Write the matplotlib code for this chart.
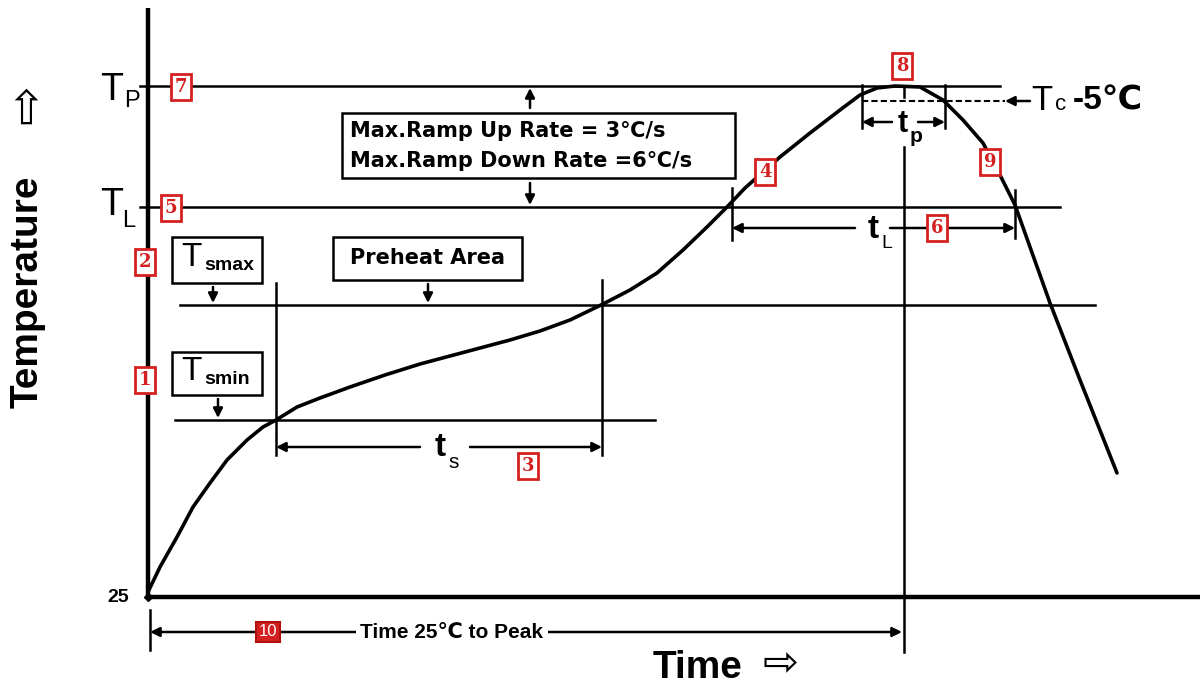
import matplotlib
matplotlib.use("Agg")
import matplotlib.pyplot as plt
from matplotlib.patches import Rectangle

# ---- data (picture coordinates: x = time, y = temperature, y grows downward) ----
curve_x = [148, 160, 177, 193, 210, 227, 247, 263, 276, 297, 320, 350, 385, 420, 450,
           480, 510, 540, 570, 603, 630, 657, 683, 707, 727, 745, 780, 810, 840, 860,
           877, 895, 920, 943, 963, 983, 1000, 1015, 1050, 1080, 1117]
curve_y = [592, 567, 537, 507, 483, 460, 440, 427, 420, 407, 398, 387, 375, 364, 356,
           348, 340, 331, 320, 304, 290, 273, 250, 227, 207, 188, 157, 133, 110, 95,
           88, 86, 87, 100, 120, 143, 175, 205, 303, 380, 473]

level_names = ["Tp", "TL", "Tsmax", "Tsmin", "25"]
level_y = [86, 207, 305, 420, 597]
t_smin_x, t_smax_x = 276, 602
t_l_start, t_l_end = 732, 1015
t_p_start, t_p_end = 862, 945
t_peak_x = 904

RED = "#d42020"
SANS = ["Liberation Sans", "DejaVu Sans"]

fig = plt.figure(figsize=(12, 6.9), dpi=100)
ax = fig.add_axes([0, 0, 1, 1])
ax.set_xlim(0, 1200)
ax.set_ylim(690, 0)
ax.axis("off")

# axes lines
ax.plot([148, 148], [8, level_y[4]], color="k", lw=3.2, solid_capstyle="butt")
ax.plot([148, 1200], [level_y[4], level_y[4]], color="k", lw=3.2, solid_capstyle="butt")

# horizontal level lines
ax.plot([140, 1000], [level_y[0]] * 2, color="k", lw=1.8)
ax.plot([140, 1060], [level_y[1]] * 2, color="k", lw=1.8)
ax.plot([180, 1095], [level_y[2]] * 2, color="k", lw=1.8)
ax.plot([175, 655], [level_y[3]] * 2, color="k", lw=1.8)

# vertical tick lines
ax.plot([t_smin_x] * 2, [283, 455], color="k", lw=1.8)
ax.plot([t_smax_x] * 2, [280, 455], color="k", lw=1.8)
ax.plot([t_l_start] * 2, [188, 240], color="k", lw=1.8)
ax.plot([t_l_end] * 2, [190, 238], color="k", lw=1.8)
ax.plot([t_p_start] * 2, [85, 128], color="k", lw=1.8)
ax.plot([t_p_end] * 2, [85, 128], color="k", lw=1.8)
ax.plot([t_peak_x] * 2, [86, 97], color="k", lw=1.8)
ax.plot([t_peak_x] * 2, [147, 652], color="k", lw=1.8)
ax.plot([150, 150], [610, 650], color="k", lw=1.8)

# dashed Tc-5 line
ax.plot([t_p_start, 1005], [101, 101], color="k", lw=1.5, ls=(0, (3, 1.5)))

# curve
ax.plot(curve_x, curve_y, color="k", lw=2.6, solid_capstyle="round",
        solid_joinstyle="round", zorder=5)
ax.plot([148], [597], marker="D", ms=4, color="k")


def arrow(x0, y0, x1, y1, lw=1.8, ms=14):
    ax.annotate("", xy=(x1, y1), xytext=(x0, y0),
                arrowprops=dict(arrowstyle="-|>", color="k", lw=lw,
                                mutation_scale=ms, shrinkA=0, shrinkB=0))


# dimension arrows
arrow(420, 447, t_smin_x, 447); arrow(470, 447, t_smax_x, 447)
arrow(855, 228, t_l_start, 228); arrow(890, 228, t_l_end, 228)
arrow(892, 122, t_p_start, 122); arrow(918, 122, t_p_end, 122)
arrow(560, 632, 150, 632); arrow(560, 632, t_peak_x - 2, 632)
arrow(1030, 101, 1005, 101)
arrow(530, 108, 530, 88); arrow(530, 183, 530, 205)
arrow(213, 287, 213, 303); arrow(428, 284, 428, 303); arrow(218, 399, 218, 418)

# labels on y axis
ax.text(112, 90, "T", fontsize=27, family=SANS, ha="center", va="center")
ax.text(132, 101, "P", fontsize=17, family=SANS, ha="center", va="center")
ax.text(112, 205, "T", fontsize=27, family=SANS, ha="center", va="center")
ax.text(129, 221, "L", fontsize=17, family=SANS, ha="center", va="center")
ax.text(118, 598, "25", fontsize=14, family=SANS, fontweight="bold", ha="center", va="center")

# Tc - 5
ax.text(1042, 101, "T", fontsize=25, family=SANS, ha="center", va="center")
ax.text(1061, 105, "c", fontsize=16, family=SANS, ha="center", va="center")
ax.text(1073, 101, "-5℃", fontsize=24, family=SANS, fontweight="bold", ha="left", va="center")

# t labels
ax.text(440, 447, "t", fontsize=24, family=SANS, fontweight="bold", ha="center", va="center",
        bbox=dict(fc="white", ec="none", pad=1))
ax.text(454, 463, "s", fontsize=15, family=SANS, ha="center", va="center")
ax.text(873, 230, "t", fontsize=24, family=SANS, fontweight="bold", ha="center", va="center",
        bbox=dict(fc="white", ec="none", pad=1))
ax.text(887, 244, "L", fontsize=14, family=SANS, ha="center", va="center")
ax.text(903, 124, "t", fontsize=22, family=SANS, fontweight="bold", ha="center", va="center",
        bbox=dict(fc="white", ec="none", pad=0.5))
ax.text(916, 136, "p", fontsize=15, family=SANS, fontweight="bold", ha="center", va="center")

ax.text(452, 632, "Time 25℃ to Peak", fontsize=15, family=SANS, fontweight="bold",
        ha="center", va="center", bbox=dict(fc="white", ec="none", pad=3))

# black text boxes
def box(x0, y0, x1, y1):
    ax.add_patch(Rectangle((x0, y0), x1 - x0, y1 - y0, fill=True, fc="white", ec="k", lw=1.8, zorder=3))

box(172, 237, 262, 283)
ax.text(191, 258, "T", fontsize=24, family=SANS, ha="center", va="center", zorder=4)
ax.text(204, 266, "smax", fontsize=14, family=SANS, fontweight="bold", ha="left", va="center", zorder=4)
box(172, 352, 262, 395)
ax.text(191, 372, "T", fontsize=24, family=SANS, ha="center", va="center", zorder=4)
ax.text(204, 380, "smin", fontsize=14, family=SANS, fontweight="bold", ha="left", va="center", zorder=4)
box(333, 237, 522, 280)
ax.text(428, 258, "Preheat Area", fontsize=15, family="DejaVu Sans", fontweight="bold",
        ha="center", va="center", zorder=4)
box(342, 113, 735, 178)
ax.text(350, 131, "Max.Ramp Up Rate = 3℃/s", fontsize=15, family="DejaVu Sans",
        fontweight="bold", ha="left", va="center", zorder=4)
ax.text(350, 161, "Max.Ramp Down Rate =6℃/s", fontsize=15, family="DejaVu Sans",
        fontweight="bold", ha="left", va="center", zorder=4)

# red number boxes
red_labels = ["1", "2", "3", "4", "5", "6", "7", "8", "9"]
red_x = [145, 145, 528, 765, 171, 937, 181, 902, 990]
red_y = [380, 262, 466, 172, 208, 228, 87, 66, 162]
for lab, x, y in zip(red_labels, red_x, red_y):
    ax.text(x, y, lab, fontsize=13, family="DejaVu Serif", fontweight="bold", color=RED,
            ha="center", va="center", zorder=6,
            bbox=dict(boxstyle="square,pad=0.2", fc="white", ec=RED, lw=2))
ax.text(268, 632, "10", fontsize=12, family="Liberation Sans", color="white",
        ha="center", va="center", zorder=6,
        bbox=dict(boxstyle="square,pad=0.15", fc=RED, ec="#b01010", lw=1.5))

# axis titles
ax.text(28, 292, "Temperature", rotation=90, fontsize=28, family=SANS, fontweight="bold",
        ha="center", va="center")
ax.text(28, 104, "⇨", rotation=90, fontsize=34, family="DejaVu Sans",
        ha="center", va="center")
ax.text(698, 668, "Time", fontsize=28, family=SANS, fontweight="bold",
        ha="center", va="center")
ax.text(780, 664, "⇨", fontsize=31, family="DejaVu Sans", ha="center", va="center")

fig.savefig("out.png", dpi=100, facecolor="white")
